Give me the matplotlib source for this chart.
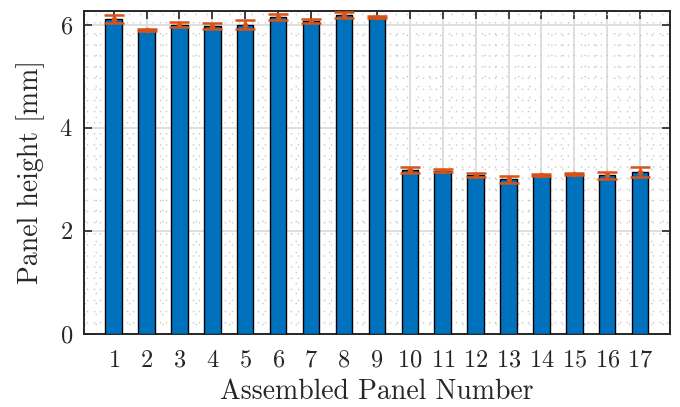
import numpy as np
import matplotlib
matplotlib.use("Agg")
import matplotlib.pyplot as plt
from matplotlib.ticker import MultipleLocator

plt.rcParams["font.family"] = "serif"
plt.rcParams["font.serif"] = ["cmr10", "DejaVu Serif"]
plt.rcParams["mathtext.fontset"] = "cm"
plt.rcParams["axes.unicode_minus"] = False
plt.rcParams["axes.formatter.use_mathtext"] = True

# Mean panel height per assembled panel and its spread
panels = list(range(1, 18))
heights = [6.10, 5.89, 6.00, 5.97, 6.00, 6.15, 6.07, 6.18, 6.14,
           3.18, 3.165, 3.09, 3.00, 3.09, 3.11, 3.08, 3.14]
errors = [0.08, 0.02, 0.05, 0.055, 0.09, 0.055, 0.04, 0.06, 0.02,
          0.065, 0.03, 0.04, 0.07, 0.02, 0.02, 0.065, 0.09]
yticks = [0, 2, 4, 6]

fig = plt.figure(figsize=(6.8, 4.07), dpi=100)
ax = fig.add_axes([0.1235, 0.179, 0.8615, 0.795])

ax.bar(panels, heights, width=0.5, color="#0072BD", edgecolor="black",
       linewidth=1.0, zorder=3)
ax.errorbar(panels, heights, yerr=errors, fmt="o", color="#D95319",
            markersize=3, elinewidth=1.8, capsize=7, capthick=1.8, zorder=4)

ax.set_xlim(0.1, 17.9)
ax.set_ylim(0, 6.27)
ax.set_xticks(panels)
ax.set_yticks(yticks)
ax.xaxis.set_minor_locator(MultipleLocator(0.2))
ax.yaxis.set_minor_locator(MultipleLocator(0.2))

ax.grid(which="major", color="#dcdcdc", linewidth=1.3, zorder=0)
ax.grid(which="minor", color="#c8c8c8", linestyle=(0, (1, 7)), linewidth=1.0, zorder=0)
ax.set_axisbelow(True)

ax.tick_params(which="major", direction="in", length=6, width=1.2,
               top=True, right=True, labelsize=17.5, color="#262626")
ax.tick_params(axis="x", which="major", pad=11)
ax.tick_params(axis="y", which="major", pad=8)
ax.tick_params(which="minor", length=0, top=True, right=True)
for s in ax.spines.values():
    s.set_color("#262626")
    s.set_linewidth(1.4)

ax.set_xlabel("Assembled Panel Number", fontsize=20, color="#262626", labelpad=5)
ax.set_ylabel("Panel height [mm]", fontsize=20, color="#262626", labelpad=10)
for lab in ax.get_xticklabels() + ax.get_yticklabels():
    lab.set_color("#262626")

fig.savefig("out.png", dpi=100)
